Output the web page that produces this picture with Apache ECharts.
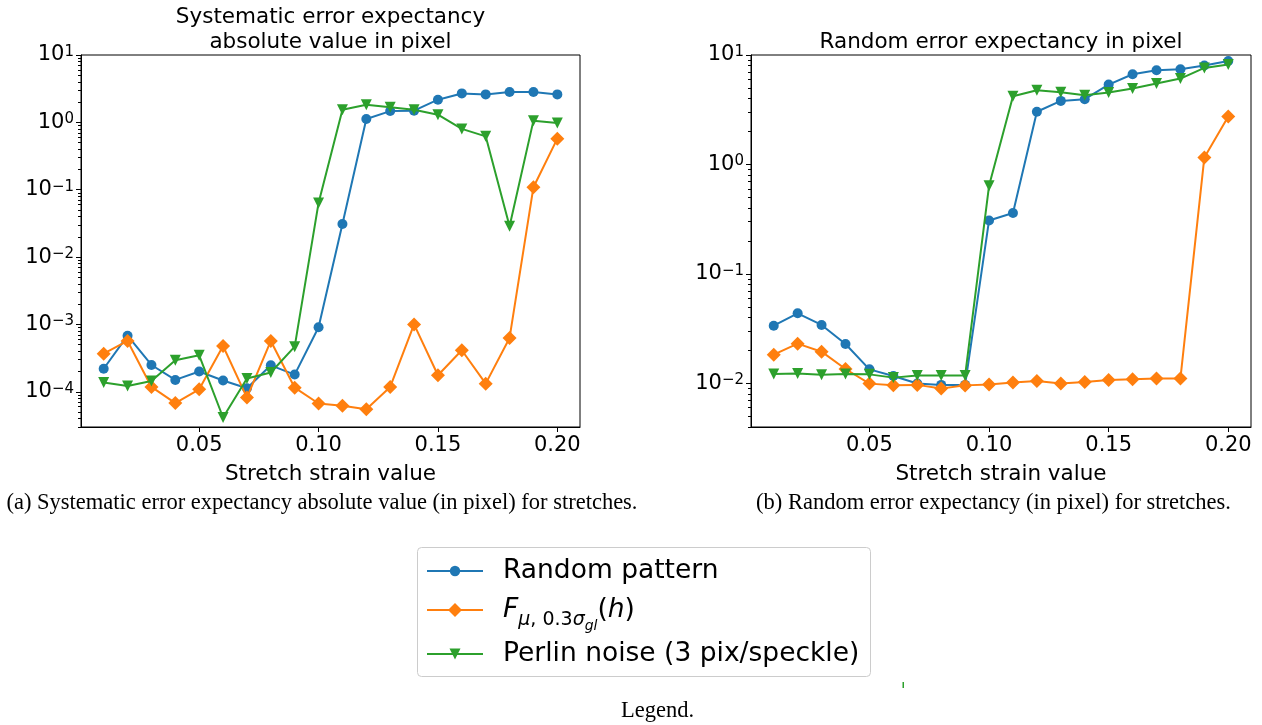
<!DOCTYPE html>
<html><head><meta charset="utf-8">
<script src="https://cdn.jsdelivr.net/npm/echarts@6/dist/echarts.min.js"></script>
<style>html,body{margin:0;padding:0;background:#fff;}#c{width:1262px;height:725px;}</style>
</head><body><div id="c"></div>
<script>
// ---------- data ----------
const strain = [0.01,0.02,0.03,0.04,0.05,0.06,0.07,0.08,0.09,0.10,0.11,0.12,0.13,0.14,0.15,0.16,0.17,0.18,0.19,0.20];
// (a) systematic error expectancy, absolute value in pixel
const sysRandom = [2.2e-4,6.8e-4,2.5e-4,1.5e-4,2.0e-4,1.47e-4,1.13e-4,2.47e-4,1.8e-4,9.1e-4,0.031,1.12,1.47,1.49,2.17,2.69,2.60,2.82,2.82,2.60];
const sysF      = [3.68e-4,5.68e-4,1.18e-4,6.8e-5,1.09e-4,4.79e-4,8.2e-5,5.68e-4,1.15e-4,6.7e-5,6.2e-5,5.5e-5,1.18e-4,1.0e-3,1.76e-4,4.13e-4,1.32e-4,6.3e-4,0.109,0.573];
const sysPerlin = [1.37e-4,1.22e-4,1.45e-4,2.93e-4,3.48e-4,4.15e-5,1.57e-4,1.93e-4,4.68e-4,0.0637,1.54,1.83,1.67,1.54,1.30,0.80,0.62,0.0287,1.06,0.98];
// (b) random error expectancy in pixel
const rndRandom = [0.0337,0.0437,0.0342,0.0229,0.01345,0.0117,0.0100,0.0097,0.0097,0.308,0.360,3.03,3.81,3.95,5.37,6.67,7.26,7.41,8.01,8.83];
const rndF      = [0.0183,0.0231,0.0195,0.01355,0.00996,0.00962,0.0097,0.00897,0.0096,0.0098,0.0102,0.0105,0.0100,0.0103,0.01075,0.0109,0.0111,0.0111,1.16,2.74];
const rndPerlin = [0.0122,0.0123,0.0120,0.0122,0.0121,0.0113,0.0118,0.0118,0.0118,0.638,4.20,4.77,4.57,4.29,4.54,4.94,5.49,6.09,7.62,8.18];
// ticks and labels
const xTicks = [0.05,0.10,0.15,0.20];
const sysYTicks = [1e-4,1e-3,1e-2,1e-1,1,10];
const rndYTicks = [1e-2,1e-1,1,10];
const seriesNames = ['Random pattern','F_{μ, 0.3σ_gl}(h)','Perlin noise (3 pix/speckle)'];
const titleA = ['Systematic error expectancy','absolute value in pixel'];
const titleB = 'Random error expectancy in pixel';
const xName = 'Stretch strain value';
const captionA = '(a) Systematic error expectancy absolute value (in pixel) for stretches.';
const captionB = '(b) Random error expectancy (in pixel) for stretches.';
const captionL = 'Legend.';

// ---------- style ----------
const FONT = 'DejaVu Sans';
const SERIF = 'Liberation Serif';
const COLORS = ['#1f77b4','#ff7f0e','#2ca02c'];
const SYM = [
  {symbol:'circle', size:10, rotate:0, legendH:13},
  {symbol:'diamond', size:14, rotate:0, legendH:17.5},
  {symbol:'triangle', size:11, rotate:180, legendH:13.75}
];
const X_MIN = 0.0005, X_MAX = 0.2095;
const SYS_MIN = 3e-5, SYS_MAX = 10;
const RND_MIN = 4e-3, RND_MAX = 10;

function minorVals(min, max){
  const out = [];
  for (let e = Math.floor(Math.log10(min)); e <= Math.ceil(Math.log10(max)); e++) {
    for (let k = 2; k <= 9; k++) { const v = k * Math.pow(10, e); if (v >= min && v <= max) out.push(v); }
  }
  return out;
}
function powFmt(v){
  const l = Math.log10(v); const e = Math.round(l);
  if (Math.abs(l - e) > 1e-6) return '';
  return '{b|10}{s|' + (e < 0 ? '\u2212' + (-e) : String(e)) + '}';
}
const grids = [
  {left:81, top:55, width:499, height:372},
  {left:751, top:55, width:500, height:372}
];
function xAxis(g){
  return {type:'value', gridIndex:g, min:X_MIN, max:X_MAX,
    name:xName, nameLocation:'middle', nameGap:36,
    nameTextStyle:{fontSize:21.5, color:'#000', fontFamily:FONT},
    axisLine:{show:true, onZero:false, lineStyle:{color:'#000', width:1}},
    axisTick:{show:true, length:5, customValues:xTicks, lineStyle:{color:'#000', width:1}},
    axisLabel:{show:true, customValues:xTicks, formatter:v=>v.toFixed(2), fontSize:21, color:'#000', fontFamily:FONT, margin:8},
    splitLine:{show:false}};
}
function yMajor(g, min, max, ticks){
  return {type:'log', logBase:10, gridIndex:g, min, max, position:'left',
    axisLine:{show:true, lineStyle:{color:'#000', width:1}},
    axisTick:{show:true, length:5, customValues:ticks, lineStyle:{color:'#000', width:1}},
    axisLabel:{show:true, customValues:ticks, formatter:powFmt, margin:7, color:'#000', fontFamily:FONT,
      rich:{b:{fontSize:21, lineHeight:21, padding:[4,0,0,0], verticalAlign:'bottom', color:'#000', fontFamily:FONT},
            s:{fontSize:15, lineHeight:15, verticalAlign:'top', color:'#000', fontFamily:FONT}}},
    splitLine:{show:false}, minorTick:{show:false}};
}
function yMinor(g, min, max){
  return {type:'log', logBase:10, gridIndex:g, min, max, position:'left',
    axisLine:{show:false}, axisLabel:{show:false},
    axisTick:{show:true, length:3, customValues:minorVals(min,max), lineStyle:{color:'#000', width:1}},
    splitLine:{show:false}};
}
function mkSeries(i, vals, g){
  return {type:'line', name:seriesNames[i], xAxisIndex:g, yAxisIndex:g*2,
    data: strain.map((x,k)=>[x, vals[k]]),
    symbol:SYM[i].symbol, symbolSize:SYM[i].size, symbolRotate:SYM[i].rotate, showSymbol:true,
    lineStyle:{width:2, color:COLORS[i]}, itemStyle:{color:COLORS[i]},
    emphasis:{disabled:true}, silent:true, z:2+i, clip:true};
}
const legendRows = [571, 610, 654];
const LEG_FONT = 26.5;
function legendFor(i){
  const blockH = i === 1 ? 44 : 30;
  return {show:true, data:[seriesNames[i]], orient:'vertical', left:426, top:legendRows[i] - blockH/2,
    padding:0, itemWidth:56, itemHeight:SYM[i].legendH, itemGap:0, selectedMode:false,
    formatter: name => {
      if (i !== 1) return name;
      return '{it|F}{sub|μ}{subr|, 0.3}{sub|σ}{ss|gl}{r|(}{it|h}{r|)}';
    },
    textStyle:{fontSize:LEG_FONT, fontFamily:FONT, color:'#000', lineHeight:30, padding:[0,0,0,15],
      rich:{
        it:{fontSize:LEG_FONT, fontStyle:'italic', lineHeight:44, fontFamily:FONT, color:'#000'},
        r:{fontSize:LEG_FONT, lineHeight:44, fontFamily:FONT, color:'#000'},
        sub:{fontSize:19, fontStyle:'italic', lineHeight:19, verticalAlign:'top', padding:[22.5,0,0,0], fontFamily:FONT, color:'#000'},
        subr:{fontSize:19, lineHeight:19, verticalAlign:'top', padding:[22.5,0,0,0], fontFamily:FONT, color:'#000'},
        ss:{fontSize:14, fontStyle:'italic', lineHeight:12, verticalAlign:'top', padding:[31.5,0,0,0], fontFamily:FONT, color:'#000'}
      }}};
}
function txt(text, x, y, size, family){
  return {type:'text', x, y, silent:true, z:10,
    style:{text, fill:'#000', font: size + 'px "' + family + '"', align:'center', verticalAlign:'middle'}};
}

const chart = echarts.init(document.getElementById('c'), null, {renderer:'canvas'});
chart.setOption({
  animation:false,
  backgroundColor:'#fff',
  grid: grids.map(g => Object.assign({show:true, borderColor:'#000', borderWidth:1, backgroundColor:'transparent', containLabel:false, outerBoundsMode:'none'}, g)),
  xAxis:[xAxis(0), xAxis(1)],
  yAxis:[yMajor(0, SYS_MIN, SYS_MAX, sysYTicks), yMinor(0, SYS_MIN, SYS_MAX),
         yMajor(1, RND_MIN, RND_MAX, rndYTicks), yMinor(1, RND_MIN, RND_MAX)],
  legend:[legendFor(0), legendFor(1), legendFor(2)],
  series:[
    mkSeries(0, sysRandom, 0), mkSeries(1, sysF, 0), mkSeries(2, sysPerlin, 0),
    mkSeries(0, rndRandom, 1), mkSeries(1, rndF, 1), mkSeries(2, rndPerlin, 1)
  ],
  graphic:[
    txt(titleA[0], 330.5, 17.5, 21.5, FONT),
    txt(titleA[1], 330.5, 42.5, 21.5, FONT),
    txt(titleB, 1001, 42, 21.5, FONT),
    txt(captionA, 322, 503.5, 22.5, SERIF),
    txt(captionB, 993.5, 503.5, 22.5, SERIF),
    txt(captionL, 657.5, 711, 22.5, SERIF),
    {type:'rect', shape:{x:417.5, y:547.5, width:453, height:129, r:4}, silent:true, z:-1,
     style:{fill:'rgba(255,255,255,0.8)', stroke:'#cccccc', lineWidth:1}},
    {type:'rect', shape:{x:902.5, y:682, width:1.5, height:6}, silent:true, style:{fill:'#2ca02c'}}
  ]
});
</script></body></html>
